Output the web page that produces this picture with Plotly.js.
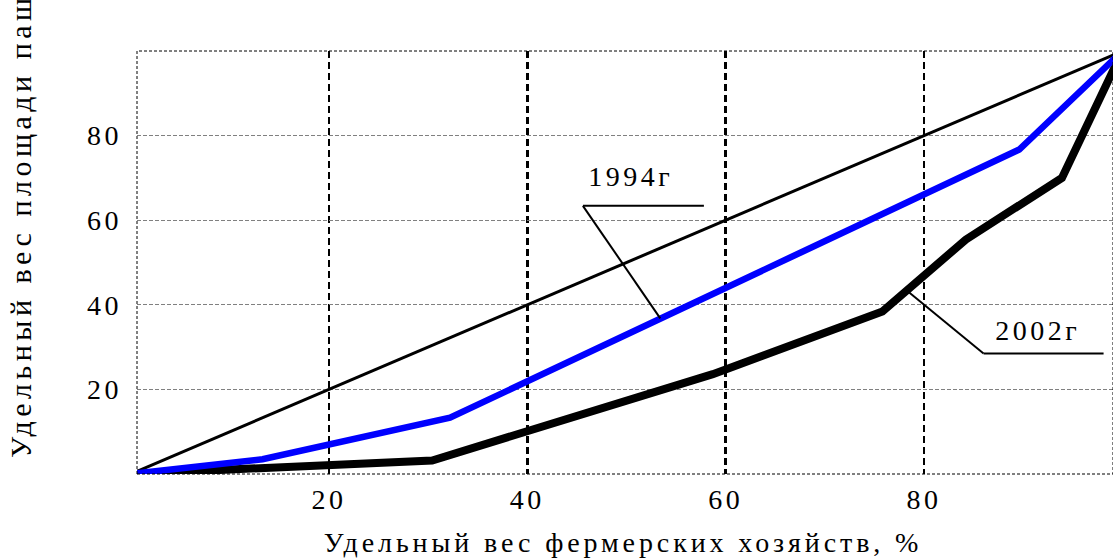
<!DOCTYPE html>
<html>
<head>
<meta charset="utf-8">
<script src="https://cdn.plot.ly/plotly-3.0.1.min.js"></script>
<style>
html, body { margin: 0; padding: 0; background: #fff; }
#chart { width: 1113px; height: 559px; }
.main-svg text { letter-spacing: 3.5px; }
.annotation[data-index="2"] text { letter-spacing: 3.9px; }
.annotation[data-index="3"] text { letter-spacing: 4.5px; }
</style>
</head>
<body>
<div id="chart"></div>
<script>
// Equality line (uniform distribution)
const equalX = [0, 100];
const equalY = [0, 100];
// 1994
const x1994 = [0, 13.3, 32.2, 89.6, 100];
const y1994 = [0, 3.5, 13.3, 76.7, 100];
// 2002
const x2002 = [0, 30.4, 58.7, 75.8, 84.2, 93.9, 100];
const y2002 = [0, 3.2, 23.6, 38.4, 55.4, 70.0, 100];

const tickVals = [20, 40, 60, 80];
const tickText = ['20', '40', '60', '80'];
const xTitle = 'Удельный вес фермерских хозяйств, %';
const yTitle = 'Удельный вес площади пашни, %';
const label1994 = '1994г';
const label2002 = '2002г';

const FONT = "'Liberation Serif', 'Times New Roman', serif";

const traces = [
  { x: equalX, y: equalY, mode: 'lines', line: { color: '#000', width: 3 }, hoverinfo: 'skip' },
  { x: x2002, y: y2002, mode: 'lines', line: { color: '#000', width: 8 }, hoverinfo: 'skip' },
  { x: x1994, y: y1994, mode: 'lines', line: { color: '#0000ff', width: 6.5 }, hoverinfo: 'skip' }
];

const layout = {
  width: 1113, height: 559,
  margin: { l: 137, r: 0, t: 51, b: 85 },
  paper_bgcolor: '#fff', plot_bgcolor: '#fff',
  showlegend: false,
  font: { family: FONT, size: 28, color: '#000' },
  xaxis: {
    range: [0.64, 99.05], tickvals: tickVals, ticktext: tickText,
    showgrid: true, gridcolor: '#000', gridwidth: 2.5, griddash: '7px,4px',
    zeroline: false, showline: false, ticks: '', ticklabelstandoff: 6,
    tickfont: { family: FONT, size: 28, color: '#000' }
  },
  yaxis: {
    range: [0, 100], tickvals: tickVals, ticktext: tickText,
    showgrid: true, gridcolor: '#808080', gridwidth: 1, griddash: '4px,2px',
    zeroline: false, showline: false, ticks: '', ticklabelstandoff: 14,
    tickfont: { family: FONT, size: 28, color: '#000' }
  },
  shapes: [
    { type: 'rect', xref: 'paper', yref: 'paper', x0: 0, x1: 1, y0: 0, y1: 1,
      line: { color: '#000', width: 1, dash: '3px,2px' }, layer: 'above' },
    { type: 'line', xref: 'x', yref: 'y', x0: 45.6, y0: 63.4, x1: 57.8, y1: 63.4,
      line: { color: '#000', width: 2 }, layer: 'above' },
    { type: 'line', xref: 'x', yref: 'y', x0: 45.6, y0: 63.4, x1: 53.4, y1: 36.8,
      line: { color: '#000', width: 2 }, layer: 'above' },
    { type: 'line', xref: 'x', yref: 'y', x0: 78.5, y0: 42.9, x1: 86.0, y1: 28.5,
      line: { color: '#000', width: 2 }, layer: 'above' },
    { type: 'line', xref: 'x', yref: 'y', x0: 86.0, y0: 28.5, x1: 98.1, y1: 28.5,
      line: { color: '#000', width: 2 }, layer: 'above' }
  ],
  annotations: [
    { text: label1994, xref: 'x', yref: 'y', x: 50.4, y: 70.3, showarrow: false,
      xanchor: 'center', yanchor: 'middle', font: { family: FONT, size: 28, color: '#000' } },
    { text: label2002, xref: 'x', yref: 'y', x: 91.4, y: 33.9, showarrow: false,
      xanchor: 'center', yanchor: 'middle', font: { family: FONT, size: 28, color: '#000' } },
    { text: xTitle, xref: 'paper', yref: 'paper', x: 0.498, y: -0.163, showarrow: false,
      xanchor: 'center', yanchor: 'middle', font: { family: FONT, size: 28, color: '#000' } },
    { text: yTitle, xref: 'paper', yref: 'paper', x: -0.119, y: 0.700, showarrow: false,
      textangle: -90, xanchor: 'center', yanchor: 'middle', font: { family: FONT, size: 30, color: '#000' } }
  ]
};

Plotly.newPlot('chart', traces, layout, { displayModeBar: false, staticPlot: true });
</script>
</body>
</html>
